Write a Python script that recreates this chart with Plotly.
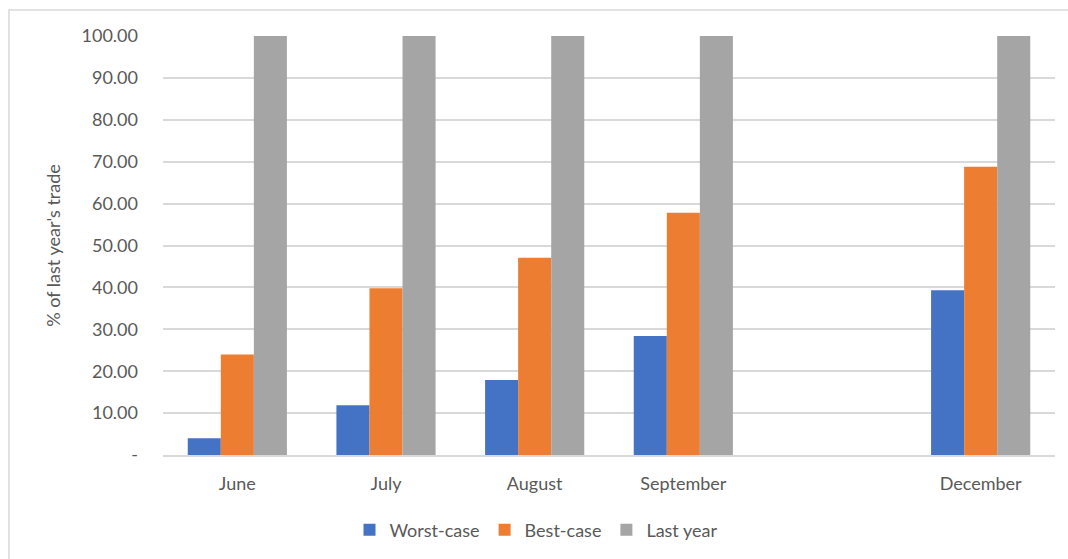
import plotly.graph_objects as go

categories = ["June", "July", "August", "September", " ", "December"]
worst_case = [4.0, 11.9, 17.9, 28.4, None, 39.3]
best_case = [24.0, 39.8, 47.1, 57.8, None, 68.8]
last_year = [100.0, 100.0, 100.0, 100.0, None, 100.0]
y_ticks = [0, 10, 20, 30, 40, 50, 60, 70, 80, 90, 100]
y_ticktext = ["-", "10.00", "20.00", "30.00", "40.00", "50.00", "60.00", "70.00", "80.00", "90.00", "100.00"]

FONT = "Lato"
TXT = "#595959"
FS = 18

fig = go.Figure()
fig.add_trace(go.Bar(x=categories, y=worst_case, name="Worst-case", marker_color="#4472C4", marker_line_width=0))
fig.add_trace(go.Bar(x=categories, y=best_case, name="Best-case", marker_color="#ED7D31", marker_line_width=0))
fig.add_trace(go.Bar(x=categories, y=last_year, name="Last year", marker_color="#A5A5A5", marker_line_width=0))

W, H = 1068, 559
L, R, T, B = 163, 13, 36, 103
pw, ph = W - L - R, H - T - B

def px_x(p):
    return (p - L) / pw

def px_y(p):
    return (H - B - p) / ph

fig.update_layout(
    width=W, height=H,
    margin=dict(l=L, r=R, t=T, b=B),
    paper_bgcolor="white", plot_bgcolor="white",
    barmode="group", bargap=0.333, bargroupgap=0,
    font=dict(family=FONT, color=TXT, size=FS),
    showlegend=True,
    legend=dict(orientation="h", x=px_x(536), xanchor="center", y=px_y(530), yanchor="middle",
                font=dict(size=FS, color=TXT), itemwidth=30, traceorder="normal"),
    xaxis=dict(showgrid=False, showline=True, linecolor="#d9d9d9", linewidth=1.5,
               ticks="", tickfont=dict(size=FS, color=TXT), ticklabelstandoff=12),
    yaxis=dict(range=[0, 100], tickvals=y_ticks, ticktext=y_ticktext,
               showgrid=True, gridcolor="#d9d9d9", gridwidth=1.5, zeroline=False,
               showline=False, ticks="", ticklabelstandoff=24,
               tickfont=dict(size=FS, color=TXT),
               title=dict(text="% of last year's trade", font=dict(size=FS, color=TXT), standoff=16)),
    shapes=[dict(type="rect", xref="paper", yref="paper",
                 x0=px_x(9), x1=px_x(1080), y0=px_y(575), y1=px_y(10),
                 line=dict(color="#d9d9d9", width=1.5), fillcolor="rgba(0,0,0,0)", layer="below")],
)

fig.write_html("out.html")
